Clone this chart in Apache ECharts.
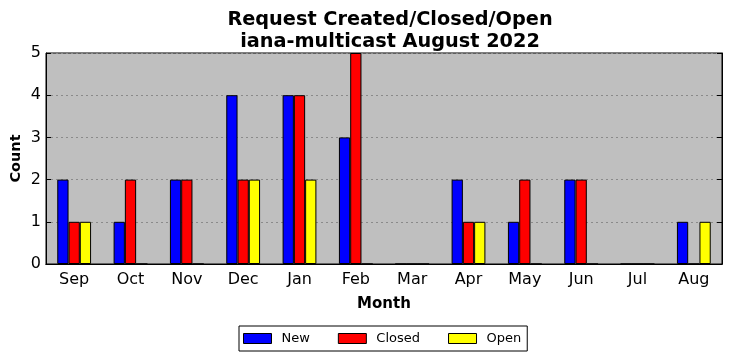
<!DOCTYPE html>
<html><head><meta charset="utf-8">
<script src="https://cdn.jsdelivr.net/npm/echarts@6/dist/echarts.min.js"></script>
<style>html,body{margin:0;padding:0;background:#fff}#c{width:732px;height:361px}</style>
</head><body><div id="c"></div>
<script>
var months = ['Sep','Oct','Nov','Dec','Jan','Feb','Mar','Apr','May','Jun','Jul','Aug'];
var newVals = [2,1,2,4,4,3,0,2,1,2,0,1];
var closedVals = [1,2,2,2,4,5,0,1,2,2,0,0];
var openVals = [1,0,0,2,2,0,0,1,0,0,0,1];
var yTicks = [0,1,2,3,4,5];

var font = 'DejaVu Sans';
var chart = echarts.init(document.getElementById('c'));
function bar(name, data, color){
  return {name:name, type:'bar', data:data, barWidth:'20%', barGap:'0%',
    itemStyle:{color:color, borderColor:'#000', borderWidth:1}, xAxisIndex:0, yAxisIndex:0};
}
chart.setOption({
  animation:false,
  backgroundColor:'#fff',
  title:{text:'Request Created/Closed/Open\niana-multicast August 2022', left:385, top:4, textAlign:'center',
    textStyle:{fontFamily:font, fontWeight:'bold', fontSize:19.3, lineHeight:22, color:'#000'}},
  grid:{left:46, right:10, top:53, bottom:97, show:true, backgroundColor:'#bfbfbf', borderColor:'#000', borderWidth:1, containLabel:false, outerBoundsMode:'none'},
  legend:{data:['New','Closed','Open'], left:239, top:326, orient:'horizontal', icon:'rect',
    itemWidth:28, itemHeight:10, itemGap:28, padding:[6,6,6,4],
    itemStyle:{borderColor:'#000', borderWidth:1},
    borderColor:'#000', borderWidth:1, borderRadius:0,
    textStyle:{fontFamily:font, fontSize:13, color:'#000', padding:[0,0,0,5]}},
  xAxis:[{type:'category', data:months, name:'Month', nameLocation:'middle', nameGap:33, nameMoveOverlap:false,
    nameTextStyle:{fontFamily:font, fontWeight:'bold', fontSize:15, color:'#000'},
    axisLine:{lineStyle:{color:'#000'}}, axisTick:{inside:true, alignWithLabel:true, length:5, lineStyle:{color:'#000'}},
    axisLabel:{fontFamily:font, fontSize:16, color:'#000', margin:8}},
   {type:'category', data:months, position:'top', axisLine:{lineStyle:{color:'#000'}},
    axisTick:{inside:true, alignWithLabel:true, length:5, lineStyle:{color:'#000'}}, axisLabel:{show:false}}],
  yAxis:[{type:'value', min:0, max:5, interval:1, name:'Count', nameLocation:'middle', nameGap:22, nameMoveOverlap:false,
    nameTextStyle:{fontFamily:font, fontWeight:'bold', fontSize:14.5, color:'#000'},
    axisLine:{show:true, lineStyle:{color:'#000'}}, axisTick:{show:true, inside:true, length:5, lineStyle:{color:'#000'}},
    axisLabel:{fontFamily:font, fontSize:16, color:'#000', margin:5, formatter:function(v){return yTicks.indexOf(v)>=0?String(v):'';}},
    splitLine:{show:true, lineStyle:{color:'#8a8a8a', type:[2,3], width:1}}},
   {type:'value', min:0, max:5, interval:1, position:'right', axisLine:{show:true, lineStyle:{color:'#000'}},
    axisTick:{show:true, inside:true, length:5, lineStyle:{color:'#000'}}, axisLabel:{show:false}, splitLine:{show:false}}],
  series:[bar('New', newVals, '#0000ff'), bar('Closed', closedVals, '#ff0000'), bar('Open', openVals, '#ffff00')]
});
</script></body></html>
